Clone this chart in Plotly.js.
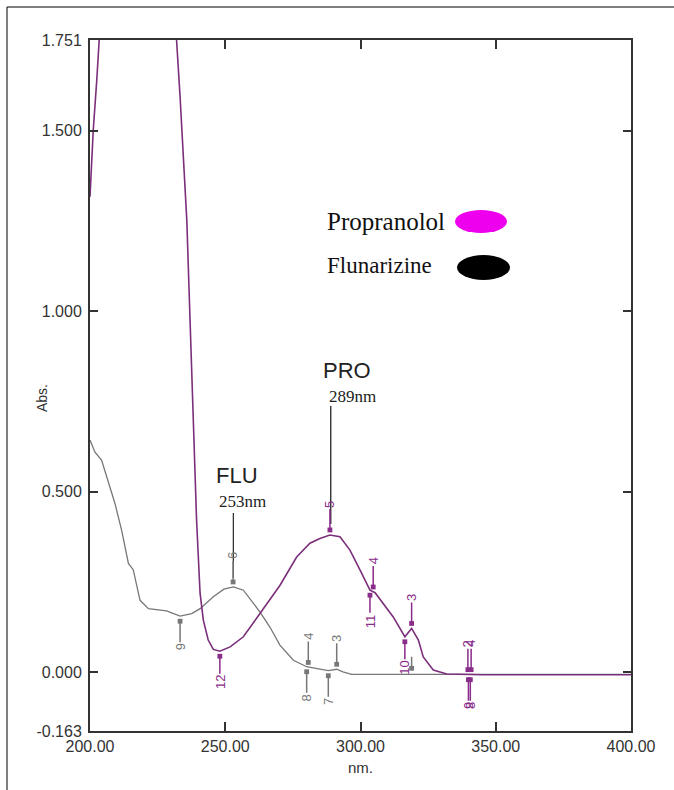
<!DOCTYPE html>
<html>
<head>
<meta charset="utf-8">
<script src="https://cdn.plot.ly/plotly-3.0.1.min.js"></script>
<style>
html,body{margin:0;padding:0;background:#fff;}
#chart{width:674px;height:790px;}
</style>
</head>
<body>
<div id="chart"></div>
<script>
// ---- data ----
const proNm  = [200,201.2,202.5,203.4,204.5,210,220,228,231,232.0,233.3,234.5,235.8,236.4,237.0,237.6,238.5,239.4,240.7,241.9,243.7,245.6,248.0,251.8,256.7,262.8,266.5,270.2,276.4,281.3,285.0,288.7,292.4,296.1,299.8,303.5,305.4,308.4,312.1,316.4,318.9,321.4,323.2,326.9,331.9,345,370,400];
const proAbs = [1.317,1.501,1.640,1.751,2.1,2.8,2.9,2.6,2.0,1.751,1.594,1.427,1.25,1.11,0.975,0.827,0.665,0.421,0.218,0.144,0.089,0.063,0.058,0.070,0.098,0.162,0.200,0.240,0.319,0.357,0.370,0.380,0.375,0.338,0.283,0.227,0.220,0.190,0.153,0.098,0.121,0.089,0.042,0.006,-0.005,-0.007,-0.007,-0.007];

const fluNm  = [200,201.8,204.3,206.2,209.2,211.7,214.2,216.0,218.5,221.6,228.3,233.3,237.6,240.7,245.6,249.5,253.0,256.7,262.8,266.5,270.2,275.2,280.1,284,288.1,291.2,293.5,296.7,320,400];
const fluAbs = [0.643,0.610,0.587,0.541,0.468,0.393,0.301,0.283,0.199,0.176,0.170,0.155,0.162,0.176,0.209,0.230,0.236,0.227,0.167,0.125,0.075,0.033,0.015,0.010,0.004,0.008,0.001,-0.006,-0.006,-0.006];

// peak-pick labels: wavelength, absorbance on curve, label, side (-1 above, +1 below)
const proPickNm  = [288.7, 248.0, 304.7, 303.5, 318.9, 316.4, 339.7, 340.9, 339.9, 340.6];
const proPickAbs = [0.380, 0.058, 0.222, 0.227, 0.121, 0.098, -0.007, -0.007, -0.007, -0.007];
const proPickLbl = ['5','12','4','11','3','10','2','4','9','8'];
const proPickSide= [-1, 1, -1, 1, -1, 1, -1, -1, 1, 1];

const fluPickNm  = [252.9, 233.3, 280.7, 280.1, 291.2, 288.1];
const fluPickAbs = [0.236, 0.155, 0.013, 0.015, 0.008, 0.004];
const fluPickLbl = ['6','9','4','8','3','7'];
const fluPickSide= [-1, 1, -1, 1, -1, 1];

const yTickVals = [-0.163, 0, 0.5, 1.0, 1.5, 1.751];
const yTickText = ['-0.163','0.000','0.500','1.000','1.500','1.751'];
const xTickVals = [200, 250, 300, 350, 400];
const xTickText = ['200.00','250.00','300.00','350.00','400.00'];

const peakNames = ['PRO','FLU'];
const peakNm    = [289, 253];
const peakText  = ['289nm','253nm'];
const legendNames = ['Propranolol','Flunarizine'];

// ---- styles ----
const PURPLE = '#7b2f7b';
const PURPLE_LBL = '#8a2c8a';
const GRAY = '#777777';
const L = 90, R = 631, T = 40, B = 731;
const px = x => (x - L) / (R - L);
const py = y => (B - y) / (B - T);

const traces = [
  {x: fluNm, y: fluAbs, mode: 'lines', line: {color: GRAY, width: 1.3}, hoverinfo: 'skip'},
  {x: proNm, y: proAbs, mode: 'lines', line: {color: PURPLE, width: 1.6}, hoverinfo: 'skip'}
];

const annotations = [];
function addPicks(nm, abs, lbl, side, color) {
  for (let i = 0; i < nm.length; i++) {
    annotations.push({
      x: nm[i], y: abs[i], xref: 'x', yref: 'y',
      text: lbl[i], textangle: -90,
      font: {family: 'Liberation Sans, Arial', size: 13, color: color},
      showarrow: true, arrowhead: 7, arrowsize: 0.8, arrowwidth: 1.5,
      arrowcolor: color, standoff: 5,
      ax: 0, ay: side[i] * 31
    });
  }
}
addPicks(fluPickNm, fluPickAbs, fluPickLbl, fluPickSide, GRAY);
addPicks(proPickNm, proPickAbs, proPickLbl, proPickSide, PURPLE_LBL);
// unlabelled gray pick hidden under the 319 nm spike
annotations.push({x: 318.9, y: -0.006, xref: 'x', yref: 'y', text: ' ', showarrow: true,
  arrowhead: 7, arrowsize: 0.8, arrowwidth: 1.5, arrowcolor: GRAY, standoff: 6, ax: 0, ay: -22,
  font: {size: 6}});

function txt(x, y, text, font, extra) {
  return Object.assign({x: px(x), y: py(y), xref: 'paper', yref: 'paper', text: text,
    showarrow: false, xanchor: 'center', yanchor: 'middle', font: font}, extra || {});
}
const SANS = 'Liberation Sans, Arial';
const SERIF = 'Liberation Serif, Times New Roman';

// peak captions
annotations.push(
  txt(347, 370, peakNames[0], {family: SANS, size: 22, color: '#222'}),
  txt(352, 396, peakText[0], {family: SERIF, size: 17, color: '#222'}),
  txt(237, 475, peakNames[1], {family: SANS, size: 22, color: '#222'}),
  txt(242, 501, peakText[1], {family: SERIF, size: 17, color: '#222'})
);

// legend text
annotations.push(
  txt(325, 221, legendNames[0], {family: SERIF, size: 25, color: '#111'}, {xanchor: 'left'}),
  txt(325, 265, legendNames[1], {family: SERIF, size: 23, color: '#111'}, {xanchor: 'left'})
);

// axis titles
annotations.push(
  txt(42, 398, 'Abs.', {family: SANS, size: 14, color: '#333'}, {textangle: -90}),
  txt(360, 767, 'nm.', {family: SANS, size: 15, color: '#333'})
);

const shapes = [
  // peak pointer lines
  {type: 'line', xref: 'x', yref: 'paper', x0: peakNm[0], x1: peakNm[0], y0: py(406), y1: py(524), line: {color: '#222', width: 1.3}},
  {type: 'line', xref: 'x', yref: 'paper', x0: peakNm[1], x1: peakNm[1], y0: py(513), y1: py(578), line: {color: '#333', width: 1.3}},
  // legend symbols
  {type: 'circle', xref: 'paper', yref: 'paper', x0: px(455), x1: px(507), y0: py(233), y1: py(210), fillcolor: '#ee00ee', line: {width: 0}},
  {type: 'circle', xref: 'paper', yref: 'paper', x0: px(457), x1: px(510), y0: py(280), y1: py(255), fillcolor: '#000000', line: {width: 0}},
  // outer frame (left and top)
  {type: 'line', xref: 'paper', yref: 'paper', x0: px(7), x1: px(7), y0: py(7), y1: py(800), line: {color: '#000', width: 1}},
  {type: 'line', xref: 'paper', yref: 'paper', x0: px(7), x1: px(680), y0: py(7), y1: py(7), line: {color: '#000', width: 1}}
];

const layout = {
  width: 674, height: 790,
  margin: {l: L, r: 674 - R, t: T, b: 790 - B, pad: 0},
  paper_bgcolor: '#fff', plot_bgcolor: '#fff',
  showlegend: false,
  font: {family: SANS, size: 16, color: '#333'},
  xaxis: {
    range: [200, 400], tickvals: xTickVals, ticktext: xTickText,
    ticks: 'inside', ticklen: 9, tickwidth: 2, tickcolor: '#333',
    showline: true, linecolor: '#333', linewidth: 2, mirror: 'ticks',
    showgrid: false, zeroline: false, ticklabelstandoff: 0,
    tickfont: {size: 16, color: '#333'}
  },
  yaxis: {
    range: [-0.163, 1.751], tickvals: yTickVals, ticktext: yTickText,
    ticks: 'inside', ticklen: 8, tickwidth: 2, tickcolor: '#333',
    showline: true, linecolor: '#333', linewidth: 2, mirror: 'ticks',
    showgrid: false, zeroline: false, ticklabelstandoff: 3,
    tickfont: {size: 16, color: '#333'}
  },
  annotations: annotations,
  shapes: shapes
};

Plotly.newPlot('chart', traces, layout, {displayModeBar: false, staticPlot: true});
</script>
</body>
</html>
